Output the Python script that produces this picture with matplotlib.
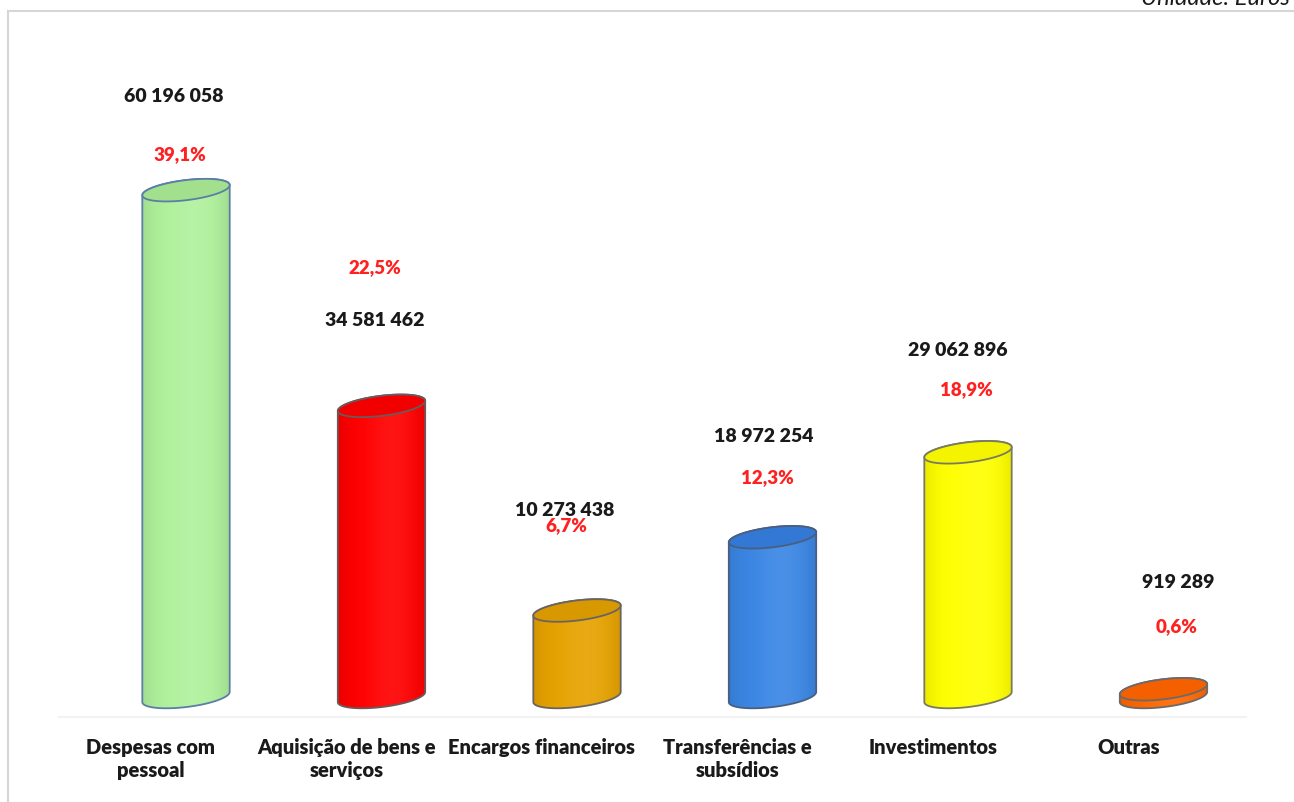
import numpy as np
import matplotlib.pyplot as plt
from matplotlib.patches import Polygon

plt.rcParams['font.family'] = ['Lato', 'DejaVu Sans']

categories = ["Despesas com\npessoal", "Aquisição de bens e\nserviços", "Encargos financeiros",
              "Transferências e\nsubsídios", "Investimentos", "Outras"]
values = [60196058, 34581462, 10273438, 18972254, 29062896, 919289]
shares = [39.1, 22.5, 6.7, 12.3, 18.9, 0.6]

body_colors = ["#b0f19c", "#ff0000", "#e6a200", "#3a86e4", "#ffff00", "#ff6600"]
top_colors = ["#a2e08e", "#f20000", "#d89800", "#3278d4", "#f4f400", "#f46000"]
edge_colors = ["#5b7ea6", "#6a5a5a", "#6a6460", "#4a5f80", "#7a7a60", "#6a6a6a"]

# posição dos rótulos (px a partir do topo, desvio horizontal em px)
value_label_y = [97, 320, 510, 437, 350, 582]
value_label_dx = [23, 28, 23, 26, 25, 50]
pct_label_y = [155, 268, 526, 478, 390, 627]
pct_label_dx = [29, 28, 24, 30, 33, 48]

W, H = 1294, 803
XPX = 195.5      # px por categoria
YPX = 8.42       # px por milhão de euros
X0 = 151         # centro da primeira categoria (px)
BASE = 105       # linha de base (px acima do fundo)

fig = plt.figure(figsize=(W / 100, H / 100), dpi=100)
ax = fig.add_axes([0, 0, 1, 1])
ax.set_xlim(-X0 / XPX, (W - X0) / XPX)
ax.set_ylim(-BASE / YPX, (H - BASE) / YPX)
ax.axis('off')


def top_px(ypx):
    # px contados a partir do topo -> unidades do eixo y
    return (H - ypx - BASE) / YPX


A, B, TH = 44, 10, np.radians(7)


def ellipse(cx, cy, t):
    dx = A * np.cos(t) * np.cos(TH) - B * np.sin(t) * np.sin(TH)
    dy = A * np.cos(t) * np.sin(TH) + B * np.sin(t) * np.cos(TH)
    return np.column_stack([cx + dx / XPX, cy + dy / YPX])


def shade(color, n=200):
    c = np.array(plt.matplotlib.colors.to_rgb(color))
    u = np.linspace(0, 1, n)
    light = 0.08 * np.exp(-((u - 0.6) / 0.25) ** 2)
    dark = 0.10 * (1 - np.sin(np.pi * u)) ** 2
    rgb = c[None, :] * (1 - light[:, None]) + light[:, None]
    rgb = rgb * (1 - dark[:, None])
    return np.clip(rgb, 0, 1)[None, :, :]


t0 = np.arctan2(-B * np.sin(TH), A * np.cos(TH))
t_up = np.linspace(t0, t0 + np.pi, 80)
t_dn = np.linspace(t0 + np.pi, t0 + 2 * np.pi, 80)
t_all = np.linspace(0, 2 * np.pi, 160)

# chão
ax.plot([-0.47, 5.6], [top_px(718)] * 2, color="#f2f2f2", lw=1.5, zorder=0)

for i, v in enumerate(values):
    h = v / 1e6
    cx = i + 35 / XPX
    sil = np.vstack([ellipse(cx, h, t_up), ellipse(cx, 0, t_dn)])
    body = Polygon(sil, closed=True, facecolor="none", edgecolor="none", zorder=2)
    ax.add_patch(body)
    half_w = (A + 2) / XPX
    img = ax.imshow(shade(body_colors[i]), extent=[cx - half_w, cx + half_w, -3, h + 3],
                    aspect='auto', zorder=2, interpolation='bilinear')
    img.set_clip_path(body)
    ax.add_patch(Polygon(sil, closed=True, fill=False, edgecolor=edge_colors[i], lw=1.3, zorder=3))
    ax.add_patch(Polygon(ellipse(cx, h, t_all), closed=True, facecolor=top_colors[i],
                         edgecolor=edge_colors[i], lw=1.3, zorder=4))

    ax.text(i + value_label_dx[i] / XPX, top_px(value_label_y[i]),
            f"{v:,}".replace(",", " "), ha='center', va='center',
            fontsize=14, fontweight='heavy', color="#1a1a1a", zorder=5)
    ax.text(i + pct_label_dx[i] / XPX, top_px(pct_label_y[i]),
            f"{shares[i]:.1f}%".replace(".", ","), ha='center', va='center',
            fontsize=13.5, fontweight='heavy', color="#ff2020", zorder=5)
    ax.text(i, top_px(738), categories[i], ha='center', va='top', linespacing=1.25,
            fontsize=14.5, fontweight='heavy', color="#1a1a1a", zorder=5)

# moldura
fig.add_artist(plt.Line2D([8 / W, 1], [1 - 12 / H] * 2, color="#d6d6d6", lw=1.5))
fig.add_artist(plt.Line2D([8 / W] * 2, [0, 1 - 12 / H], color="#d6d6d6", lw=1.5))
fig.text(1290 / W, 1 - 5 / H, "Unidade: Euros", ha='right', va='baseline',
         fontsize=17, style='italic', color="#1a1a1a")

fig.savefig("out.png", dpi=100)
